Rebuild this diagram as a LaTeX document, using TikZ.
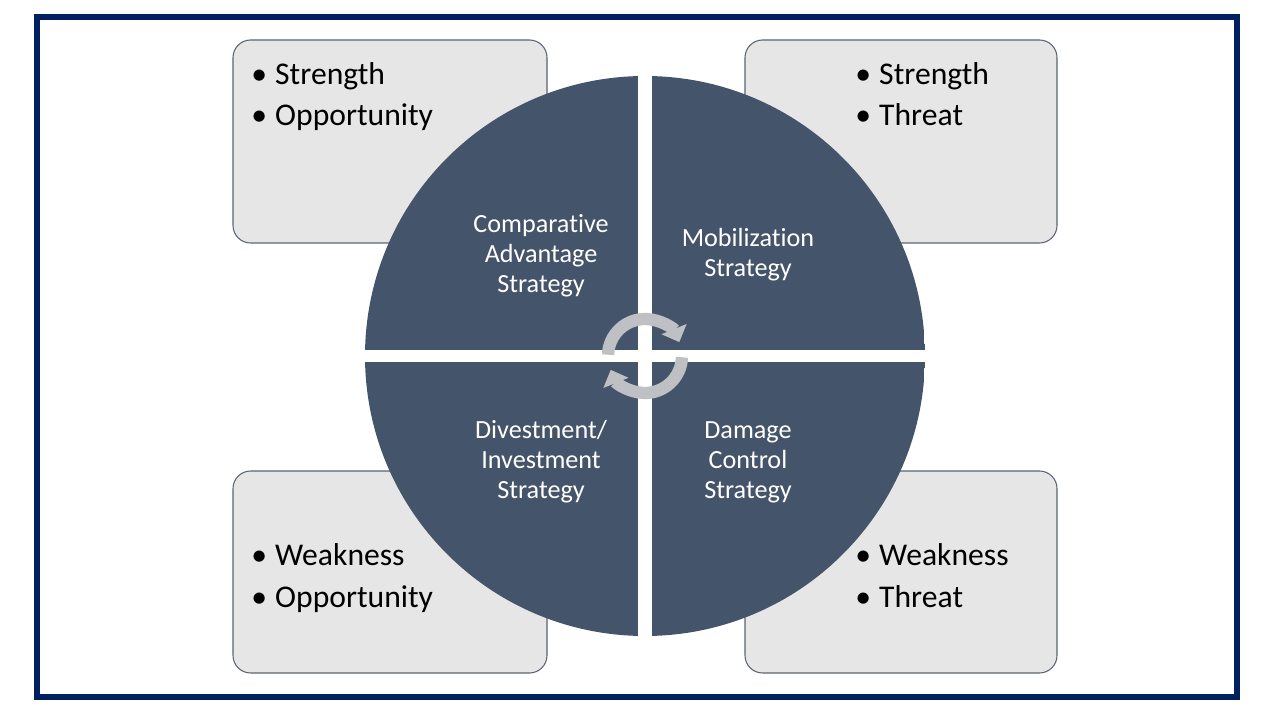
\documentclass[tikz,border=0pt]{standalone}
\usepackage{fontspec}
\setmainfont[Ligatures=NoCommon]{Carlito}
\usetikzlibrary{arrows.meta}
\definecolor{navy}{RGB}{0,32,96}
\definecolor{boxfill}{RGB}{231,230,230}
\definecolor{boxline}{RGB}{90,100,115}
\definecolor{slate}{RGB}{68,84,106}
\definecolor{ringgray}{RGB}{190,192,196}
\newcommand\bul{\makebox[13.6pt][l]{\textbullet}}
\tikzset{
  cornerbox/.style={fill=boxfill,draw=boxline,line width=0.6pt,rounded corners=10pt},
  bultext/.style={anchor=base west,inner sep=0pt,font=\fontsize{18}{22}\selectfont,text=black},
  quadtext/.style={align=center,text=white,inner sep=0pt,font=\fontsize{14.9}{17}\selectfont},
  ringarrow/.style={draw=ringgray,line width=7pt,-{Triangle[width=15pt,length=8pt]}}
}
\begin{document}
\begin{tikzpicture}[x=0.02cm,y=0.02cm]
\useasboundingbox (0,0) rectangle (1280,720);
\fill[white] (0,0) rectangle (1280,720);
% corner boxes
\draw[cornerbox] (233,477) rectangle (547,680);
\draw[cornerbox] (745,477) rectangle (1057,680);
\draw[cornerbox] (233,47) rectangle (547,249);
\draw[cornerbox] (745,47) rectangle (1057,249);
% circle with four quadrants
\begin{scope}
\clip (645,364) circle (280);
\fill[slate] (365,370) rectangle (638,644);
\fill[slate] (652,370) rectangle (925,644);
\fill[slate] (365,84) rectangle (638,358);
\fill[slate] (652,84) rectangle (925,358);
\end{scope}
% center cycle arrows
\coordinate (c) at (645,364);
\draw[ringarrow] ([shift={(178:37)}]c) arc[start angle=178,end angle=22,radius=37];
\draw[ringarrow] ([shift={(-2:37)}]c) arc[start angle=-2,end angle=-158,radius=37];
% quadrant labels
\node[quadtext] (qa) at (541,464) {Comparative\\Advantage\\Strategy};
\node[quadtext] (qb) at (748,465) {Mobilization\\Strategy};
\node[quadtext] (qc) at (541,258) {Divestment/\\Investment\\Strategy};
\node[quadtext] (qd) at (748,258) {Damage\\Control\\Strategy};
% bullets
\node[bultext] (tl1) at (251,635) {\bul Strength};
\node[bultext] (tl2) at (251,594) {\bul Opportunity};
\node[bultext] (tr1) at (855,635) {\bul Strength};
\node[bultext] (tr2) at (855,594) {\bul Threat};
\node[bultext] (bl1) at (251,154) {\bul Weakness};
\node[bultext] (bl2) at (251,113) {\bul Opportunity};
\node[bultext] (br1) at (855,154) {\bul Weakness};
\node[bultext] (br2) at (855,113) {\bul Threat};
% frame
\draw[navy,line width=3.4pt] (37,23) rectangle (1237,703);
\end{tikzpicture}
\end{document}
